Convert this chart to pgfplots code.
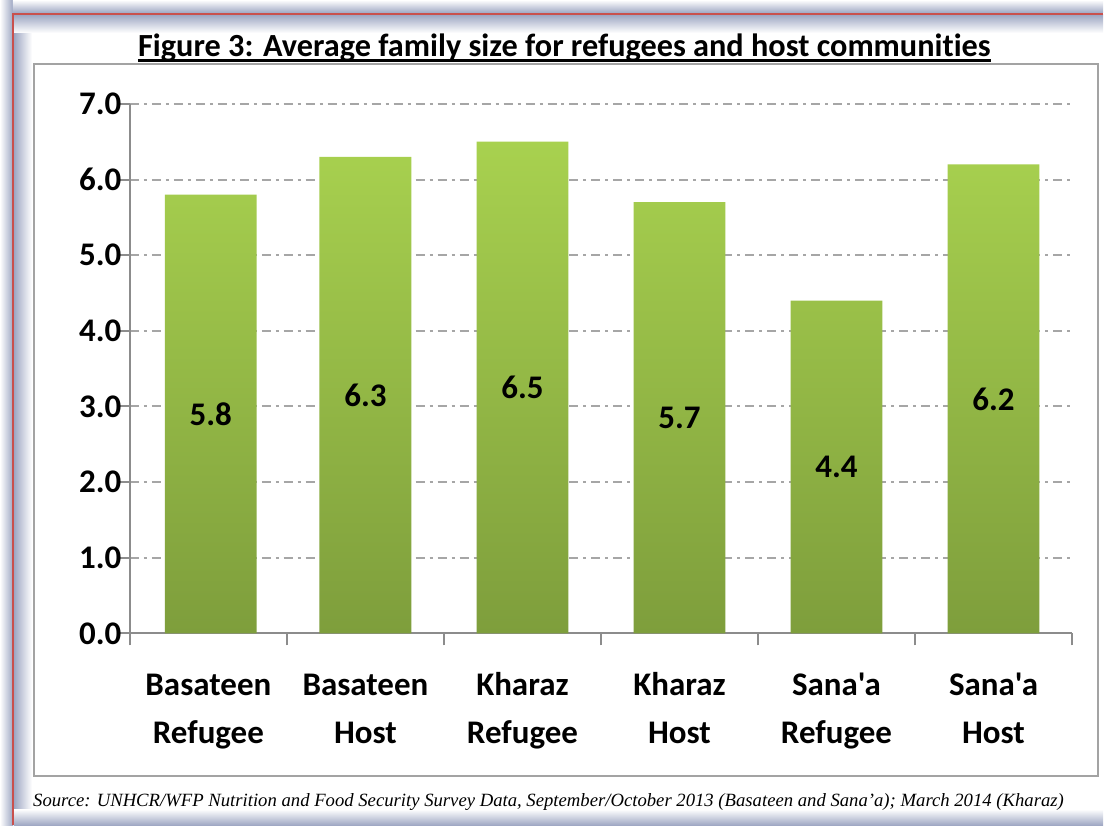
\documentclass[border=0pt]{standalone}
\usepackage{pgfplots}
\pgfplotsset{compat=1.18}
\usepackage{fontspec}
\newfontfamily\cb[Ligatures={TeXOff,NoCommon}]{Carlito}
\newfontfamily\lser{Liberation Serif}
\definecolor{axgray}{HTML}{8C8C8C}
\definecolor{gridgray}{HTML}{A6A6A6}
\definecolor{barTop}{HTML}{A8D14F}
\definecolor{barBot}{HTML}{7E9E3C}
\definecolor{frameRed}{HTML}{C9504D}
\definecolor{glow}{HTML}{9EA7C3}
\newcommand\lab{\cb\bfseries\fontsize{33}{48}\selectfont}
\begin{document}
\begin{tikzpicture}[x=1pt,y=1pt]
\fill[white] (0,0) rectangle (1104,826);
\shade[left color=white, right color=glow] (0,0) rectangle (13,826);
\shade[top color=white, bottom color=glow] (13,813) rectangle (1104,826);
\shade[left color=glow, right color=white] (14,0) rectangle (32,811);
\shade[top color=glow, bottom color=white] (14,793) rectangle (1104,811);
\shade[bottom color=glow, top color=white] (14,0) rectangle (1104,16);
\draw[frameRed, line width=2pt] (13,0) -- (13,812) -- (1104,812);
\fill[white] (34,49) rectangle (1099,762);
\draw[axgray!80, line width=2pt] (34,49) rectangle (1099,762);
\node[anchor=base, inner sep=0pt, font=\cb\bfseries\fontsize{32.3}{36}\selectfont] (T) at (565,769) {Figure 3: Average family size for refugees and host communities};
\draw[line width=2.6pt] ([yshift=-3.5pt]T.base west) -- ([yshift=-3.5pt]T.base east);
\node[anchor=base west, inner sep=0pt, font=\lser\itshape\fontsize{18.7}{22}\selectfont] at (33,19) {Source: UNHCR/WFP Nutrition and Food Security Survey Data, September/October 2013 (Basateen and Sana’a); March 2014 (Kharaz)};
\begin{axis}[at={(130pt,192pt)}, anchor=south west, scale only axis,
  width=943pt, height=530pt,
  xmin=0, xmax=6, ymin=0, ymax=7,
  axis x line*=bottom, axis y line*=left,
  axis line style={axgray, line width=2pt},
  xtick={0,...,6}, xticklabels={},
  ytick={0,...,7},
  tick align=outside, major tick length=12pt,
  every tick/.style={axgray, line width=2pt},
  ymajorgrids,
  major grid style={gridgray, line width=2pt, dash pattern=on 9pt off 5pt on 3pt off 5pt},
  extra x ticks={0.5,1.5,2.5,3.5,4.5,5.5},
  extra x tick labels={{\strut Basateen\\\strut Refugee},{\strut Basateen\\\strut Host},{\strut Kharaz\\\strut Refugee},{\strut Kharaz\\\strut Host},{\strut Sana'a\\\strut Refugee},{\strut Sana'a\\\strut Host}},
  extra x tick style={major tick length=0pt, tick style={draw=none}, grid=none},
  tick label style={font=\lab},
  x tick label style={align=center, anchor=north, yshift=-25pt},
  y tick label style={anchor=east, xshift=7pt},
  /pgf/number format/fixed, /pgf/number format/zerofill,
  /pgf/number format/precision=1, /pgf/number format/assume math mode=true,
  clip=false,
]
\addplot[ybar, bar width=0.585, draw=none, top color=barTop, bottom color=barBot,
  nodes near coords,
  visualization depends on={rawy \as \rawy},
  every node near coord/.append style={font=\lab, anchor=center, shift={(axis direction cs:0,-\rawy/2)}}]
  coordinates {(0.515,5.8) (1.5,6.3) (2.5,6.5) (3.5,5.7) (4.5,4.4) (5.5,6.2)};
\end{axis}
\end{tikzpicture}
\end{document}
